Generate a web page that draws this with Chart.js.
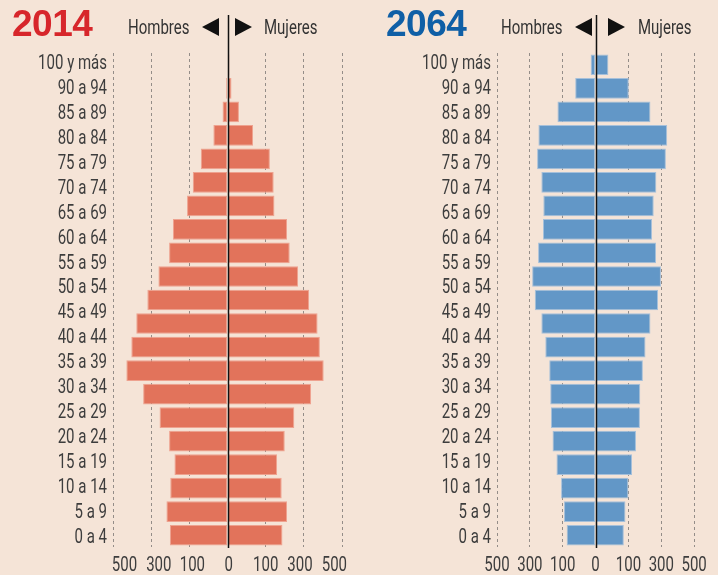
<!DOCTYPE html>
<html>
<head>
<meta charset="utf-8">
<script src="https://cdn.jsdelivr.net/npm/chart.js@4.4.1/dist/chart.umd.min.js"></script>
<style>
  html, body { margin: 0; padding: 0; background: #f5e4d7; }
  #page { position: relative; width: 718px; height: 575px; overflow: hidden; background: #f5e4d7; }
  .box { position: absolute; top: 0; width: 359px; height: 575px; }
  .year { position: absolute; top: 5px; font-family: "Liberation Sans", Arial, sans-serif; font-weight: bold; font-size: 37px; line-height: 1; letter-spacing: -0.5px; }
  .lbl { position: absolute; top: 17px; font-family: Roboto, sans-serif; font-size: 20px; line-height: 1; color: #333; transform: scaleX(0.75); transform-origin: 0 0; white-space: nowrap; }
  .tl { position: absolute; top: 18px; width: 0; height: 0; border-top: 9px solid transparent; border-bottom: 9px solid transparent; border-right: 17px solid #111; }
  .tr { position: absolute; top: 18px; width: 0; height: 0; border-top: 9px solid transparent; border-bottom: 9px solid transparent; border-left: 17px solid #111; }
</style>
</head>
<body>
<div id="page">
  <div class="box" style="left:0"><canvas id="chart2014"></canvas></div>
  <div class="box" style="left:359px"><canvas id="chart2064"></canvas></div>

  <div class="year" style="left:12px;color:#d7262b">2014</div>
  <div class="lbl" style="left:128px">Hombres</div>
  <div class="tl" style="left:202px"></div>
  <div class="tr" style="left:235px"></div>
  <div class="lbl" style="left:264px">Mujeres</div>

  <div class="year" style="left:386px;color:#0f5fa6">2064</div>
  <div class="lbl" style="left:501px">Hombres</div>
  <div class="tl" style="left:575px"></div>
  <div class="tr" style="left:608px"></div>
  <div class="lbl" style="left:638px">Mujeres</div>
</div>
<script>
// grupos de edad (barras), de arriba abajo
let grupos = ['100 y más','95 a 99','90 a 94','85 a 89','80 a 84','75 a 79','70 a 74','65 a 69','60 a 64','55 a 59',
  '50 a 54','45 a 49','40 a 44','35 a 39','30 a 34','25 a 29','20 a 24','15 a 19','10 a 14','5 a 9','0 a 4']
// etiquetas que aparecen en el eje (el original no muestra 95 a 99)
let etiquetasEdad = ['100 y más','90 a 94','85 a 89','80 a 84','75 a 79','70 a 74','65 a 69','60 a 64','55 a 59',
  '50 a 54','45 a 49','40 a 44','35 a 39','30 a 34','25 a 29','20 a 24','15 a 19','10 a 14','5 a 9','0 a 4']

let hombres2014 = [1, 3.5, 13, 37, 70, 91, 106, 143, 153, 181, 210, 239, 252, 265, 221, 178, 153, 139, 150, 160, 151]
let mujeres2014 = [5, 10.5, 30, 67, 111, 121, 123, 156, 163, 185, 214, 236, 242, 252, 219, 175, 150, 130, 142, 156, 144]
let hombres2064 = [15, 62, 116, 174, 178, 165, 159, 160, 175, 193, 185, 165, 153, 141, 138, 136, 131, 119, 105, 96, 88]
let mujeres2064 = [39, 101, 167, 218, 214, 185, 177, 172, 184, 199, 190, 167, 152, 144, 136, 135, 123, 111, 100, 91, 86]

let etiquetasX = ['500','300','100','0','100','300','500']
let posX2014 = [-270, -180, -92, 3, 100, 190, 280]
let posX2064 = [-300, -200, -100, 0, 100, 200, 300]

const fuente = "Roboto, sans-serif"

// texto estrecho (la letra original es condensada)
const estrecho = {
  id: 'estrecho',
  beforeInit(chart) {
    const ctx = chart.ctx
    const fill = ctx.fillText.bind(ctx)
    ctx.fillText = (t, x, y, w) => {
      ctx.save()
      ctx.translate(x, y)
      ctx.scale(0.75, 1)
      fill(t, 0, 0)
      ctx.restore()
    }
  }
}

// linea central negra que sube hasta la cabecera
const lineaCentro = {
  id: 'lineaCentro',
  afterDraw(chart) {
    const ctx = chart.ctx
    const x = Math.round(chart.scales.x.getPixelForValue(0)) + 0.5
    ctx.save()
    ctx.strokeStyle = '#111'
    ctx.lineWidth = 1.5
    ctx.beginPath()
    ctx.moveTo(x, 15)
    ctx.lineTo(x, chart.chartArea.bottom + 1)
    ctx.stroke()
    ctx.restore()
  }
}

function piramide(id, hombres, mujeres, color, borde, anchoEje, posX) {
  const config = {
    type: 'bar',
    data: {
      labels: grupos,
      datasets: [
        { label: 'Hombres', data: hombres.map(v => -v), backgroundColor: color, borderColor: borde, borderWidth: 1, borderSkipped: false },
        { label: 'Mujeres', data: mujeres, backgroundColor: color, borderColor: borde, borderWidth: 1, borderSkipped: false }
      ]
    },
    options: {
      indexAxis: 'y',
      responsive: true,
      maintainAspectRatio: false,
      animation: false,
      layout: { padding: { top: 53, right: 17, left: 0, bottom: 0 } },
      datasets: { bar: { barPercentage: 0.88, categoryPercentage: 1 } },
      plugins: { legend: { display: false }, tooltip: { enabled: false } },
      scales: {
        y: { type: 'category', stacked: true, display: false },
        edad: {
          type: 'linear', position: 'left', reverse: true, bounds: 'data', offset: false,
          grid: { display: false, drawTicks: false }, border: { display: false },
          afterBuildTicks: s => {
            s.ticks = etiquetasEdad.map((e, i) => ({ value: i }))
            s.min = -0.449
            s.max = 19.375
          },
          afterFit: s => { s.width = anchoEje },
          ticks: { autoSkip: false, padding: 6, color: '#3d3d3d', font: { family: fuente, size: 20 },
            callback: (v, i) => etiquetasEdad[i] }
        },
        x: {
          type: 'linear', stacked: true, min: -300, max: 300, position: 'bottom', z: 1,
          ticks: { display: false, stepSize: 100 },
          grid: { drawTicks: false, lineWidth: 1, color: c => c.tick && c.tick.value === 0 ? 'rgba(0,0,0,0)' : '#948d88' },
          border: { display: false, dash: [3, 3] },
          afterFit: s => { s.height = 0 }
        },
        x2: {
          type: 'linear', min: -300, max: 300, position: 'bottom', offset: false,
          grid: { display: false, drawTicks: false }, border: { display: false },
          afterBuildTicks: s => { s.ticks = posX.map(v => ({ value: v })) },
          afterFit: s => { s.height = 28 },
          ticks: { autoSkip: false, maxRotation: 0, padding: 7, color: '#3d3d3d', font: { family: fuente, size: 20 },
            callback: (v, i) => etiquetasX[i] }
        }
      }
    },
    plugins: [estrecho, lineaCentro]
  }
  return new Chart(document.getElementById(id), config)
}

piramide('chart2014', hombres2014, mujeres2014, '#e2735b', '#eea28f', 113, posX2014)
piramide('chart2064', hombres2064, mujeres2064, '#6297c7', '#a6c0da', 138, posX2064)
</script>
</body>
</html>
